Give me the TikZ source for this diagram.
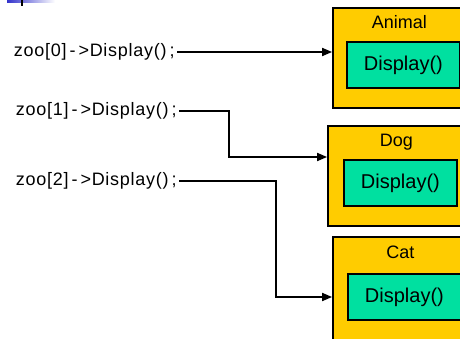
\documentclass[tikz,border=0pt]{standalone}
\usepackage{fontspec}
\setmainfont{Liberation Sans}
\usetikzlibrary{positioning,arrows.meta}
\definecolor{classgold}{RGB}{255,204,0}
\definecolor{methodgreen}{RGB}{0,224,160}
\definecolor{slideblue}{RGB}{51,51,204}

\begin{document}
\begin{tikzpicture}[x=1pt,y=1pt,line width=1.8pt,
  class box/.style={draw,fill=classgold,minimum width=140pt,minimum height=100pt,inner sep=0pt},
  method box/.style={draw,fill=methodgreen,minimum width=113pt,minimum height=46pt,
    inner sep=0pt,font=\fontsize{20}{23}\selectfont},
  class name/.style={font=\fontsize{18}{21}\selectfont,inner sep=0pt,text depth=0pt,xshift=-4pt},
  call/.style={font=\fontsize{18}{21}\selectfont\addfontfeature{LetterSpace=4},
    inner sep=2pt,anchor=west},
  ptr/.style={-{Triangle[length=10pt,width=8pt]}}]
  \useasboundingbox (0,0) rectangle (460,339);
  \clip (0,0) rectangle (460,339);
  % slide header
  \shade[left color=slideblue,right color=white] (7,336) rectangle (55,339);
  \fill (20.5,333) rectangle (22.5,339);
  % objects
  \node[class box] (animal) at (403,281) {};
  \node[method box,anchor=west] (animal-fn) at (346,274) {Display()};
  \node[class name,above=12pt of animal-fn] (animal-name) {Animal};
  \node[class box] (dog) at (398,163) {};
  \node[method box,anchor=west] (dog-fn) at (343,156) {Display()};
  \node[class name,above=12pt of dog-fn] (dog-name) {Dog};
  \node[class box,minimum height=110pt] (cat) at (403,47) {};
  \node[method box,anchor=west] (cat-fn) at (347,42) {Display()};
  \node[class name,above=14pt of cat-fn] (cat-name) {Cat};
  % calls
  \node[call] (call0) at (11,287) {zoo[0]\,-\,>Display()\,;};
  \node[call] (call1) at (13,228) {zoo[1]\,-\,>Display()\,;};
  \node[call] (call2) at (13,158) {zoo[2]\,-\,>Display()\,;};
  \draw[ptr] (call0.east) -- (call0.east -| animal.west);
  \draw[ptr] (call1.east) -| ([xshift=-98pt,yshift=19pt]dog.west) -- ([yshift=19pt]dog.west);
  \draw[ptr] (call2.east) -| ([xshift=-56pt]cat.west |- cat-fn.west) -- (cat.west |- cat-fn.west);
\end{tikzpicture}
\end{document}
